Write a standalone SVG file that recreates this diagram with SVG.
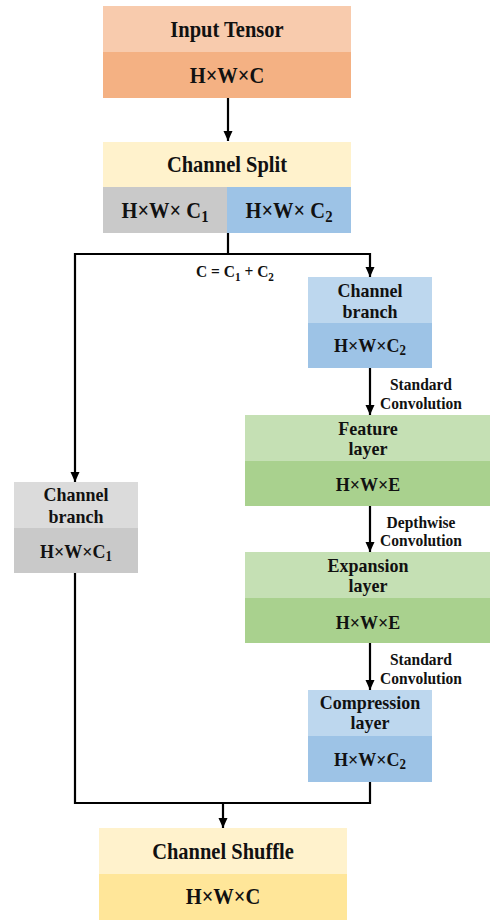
<svg xmlns="http://www.w3.org/2000/svg" width="490" height="920" viewBox="0 0 490 920">
<style>
text{font-family:"Liberation Serif","Times New Roman",serif;font-weight:bold;fill:#111;text-anchor:middle;transform-box:fill-box;transform-origin:50% 50%;transform:scaleY(1.1)}
.t1{font-size:20.5px}
.t2{font-size:18px}
.lb{font-size:15.5px}
.eq{font-size:15.5px}
.sub{font-size:0.72em}
.ln{fill:none;stroke:#000;stroke-width:2.2}
</style>
<defs>
<marker id="ah" markerUnits="userSpaceOnUse" markerWidth="10" markerHeight="11" refX="10" refY="5" orient="auto">
<path d="M0,0.5 L10,5 L0,9.5 z" fill="#000"/>
</marker>
</defs>
<rect width="490" height="920" fill="#fff"/>
<g id="connectors">
<path class="ln" d="M228,98 V141" marker-end="url(#ah)"/>
<path class="ln" d="M228,233 V254 H75 V482" marker-end="url(#ah)"/>
<path class="ln" d="M228,254 H370 V277" marker-end="url(#ah)"/>
<path class="ln" d="M370,368 V415" marker-end="url(#ah)"/>
<path class="ln" d="M370,506 V552" marker-end="url(#ah)"/>
<path class="ln" d="M370,643 V690" marker-end="url(#ah)"/>
<path class="ln" d="M75,573 V803 H370 V782"/>
<path class="ln" d="M223,803 V828" marker-end="url(#ah)"/>
<text class="eq" x="235" y="277">C = C<tspan class="sub" dy="3">1</tspan><tspan dy="-3"> + C</tspan><tspan class="sub" dy="3">2</tspan></text>
<text class="lb" x="421" y="389">Standard</text>
<text class="lb" x="421" y="408">Convolution</text>
<text class="lb" x="421" y="527">Depthwise</text>
<text class="lb" x="421" y="545">Convolution</text>
<text class="lb" x="421" y="664">Standard</text>
<text class="lb" x="421" y="683">Convolution</text>
</g>
<g id="input-tensor">
<rect x="103" y="6" width="248" height="46" fill="#F8CBAD"/>
<rect x="103" y="52" width="248" height="46" fill="#F4B183"/>
<text class="t1" x="227" y="36">Input Tensor</text>
<text class="t1" x="227" y="82">H×W×C</text>
</g>
<g id="channel-split">
<rect x="103" y="142" width="248" height="45" fill="#FFF2CC"/>
<rect x="103" y="187" width="124" height="46" fill="#C9C9C9"/>
<rect x="227" y="187" width="124" height="46" fill="#9DC3E6"/>
<text class="t1" x="227" y="171">Channel Split</text>
<text class="t1" x="165" y="217">H×W× C<tspan class="sub" dy="4">1</tspan></text>
<text class="t1" x="289" y="217">H×W× C<tspan class="sub" dy="4">2</tspan></text>
</g>
<g id="channel-branch-right">
<rect x="308" y="277" width="124" height="46" fill="#BDD7EE"/>
<rect x="308" y="323" width="124" height="45" fill="#9DC3E6"/>
<text class="t2" x="370" y="296">Channel</text>
<text class="t2" x="370" y="317">branch</text>
<text class="t2" x="370" y="351">H×W×C<tspan class="sub" dy="3">2</tspan></text>
</g>
<g id="feature-layer">
<rect x="245" y="415" width="245" height="46" fill="#C5E0B4"/>
<rect x="245" y="461" width="245" height="45" fill="#A9D18E"/>
<text class="t2" x="368" y="434">Feature</text>
<text class="t2" x="368" y="454">layer</text>
<text class="t2" x="368" y="490">H×W×E</text>
</g>
<g id="expansion-layer">
<rect x="245" y="552" width="245" height="46" fill="#C5E0B4"/>
<rect x="245" y="598" width="245" height="45" fill="#A9D18E"/>
<text class="t2" x="368" y="571">Expansion</text>
<text class="t2" x="368" y="591">layer</text>
<text class="t2" x="368" y="628">H×W×E</text>
</g>
<g id="compression-layer">
<rect x="308" y="690" width="124" height="46" fill="#BDD7EE"/>
<rect x="308" y="736" width="124" height="46" fill="#9DC3E6"/>
<text class="t2" x="370" y="708">Compression</text>
<text class="t2" x="370" y="728">layer</text>
<text class="t2" x="370" y="765">H×W×C<tspan class="sub" dy="3">2</tspan></text>
</g>
<g id="channel-branch-left">
<rect x="14" y="482" width="124" height="46" fill="#DBDBDB"/>
<rect x="14" y="528" width="124" height="45" fill="#C9C9C9"/>
<text class="t2" x="76" y="500">Channel</text>
<text class="t2" x="76" y="522">branch</text>
<text class="t2" x="76" y="557">H×W×C<tspan class="sub" dy="3">1</tspan></text>
</g>
<g id="channel-shuffle">
<rect x="99" y="828" width="248" height="46" fill="#FFF2CC"/>
<rect x="99" y="874" width="248" height="46" fill="#FFE699"/>
<text class="t1" x="223" y="858">Channel Shuffle</text>
<text class="t1" x="223" y="903">H×W×C</text>
</g>
</svg>
